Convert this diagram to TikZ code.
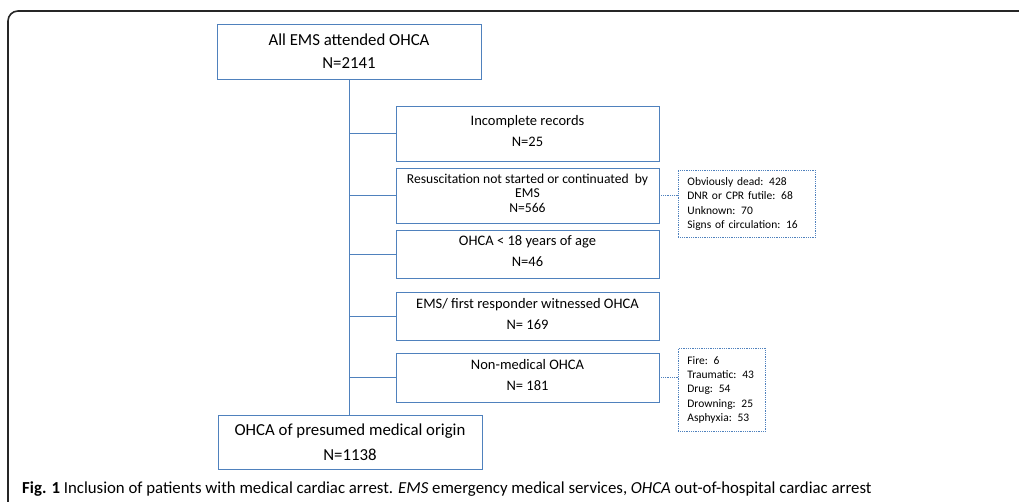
\documentclass[tikz,border=0pt]{standalone}
\usepackage{fontspec}
\setmainfont{Carlito}
\usetikzlibrary{positioning}
\definecolor{boxblue}{HTML}{4F81BD}
\tikzset{
  stagebox/.style={draw=boxblue, line width=0.9pt, minimum width=264pt, minimum height=55pt,
    align=center, inner sep=2pt, font=\fontsize{16.8}{20}\selectfont},
  sidebox/.style={stagebox, minimum width=263pt, text depth=5pt, font=\fontsize{14.5}{17.5}\selectfont},
  notebox/.style={draw=boxblue, densely dotted, line width=0.8pt, align=left, anchor=north west,
    inner xsep=9pt, inner ysep=6pt, font=\fontsize{11.5}{14.4}\selectfont},
  flow/.style={draw=boxblue, line width=0.9pt},
  noteline/.style={draw=boxblue, densely dotted, line width=0.8pt},
}
\begin{document}
\begin{tikzpicture}[x=1pt,y=-1pt]
\useasboundingbox (0,0) rectangle (1019,502);
% outer frame
\draw[line width=1.6pt, rounded corners=10pt, color=black!85] (8,503) -- (8,11) -- (1020,11);

% main flow boxes
\node[stagebox] (all) at (349,51.5) {All EMS attended OHCA\\[3pt]N=2141};
\node[stagebox, minimum height=54pt] (med) at (350,442) {OHCA of presumed medical origin\\[5pt]N=1138};

% exclusion boxes
\node[sidebox] (inc)  at (527.5,133.5) {Incomplete records\\[3.5pt]N=25};
\node[sidebox, font=\fontsize{13.6}{14.5}\selectfont] (res) at (527.5,195.5) {Resuscitation not started or continuated \ by\\EMS\\N=566};
\node[sidebox, minimum height=48pt] (age)  at (527.5,254) {OHCA < 18 years of age\\[3.5pt]N=46};
\node[sidebox, minimum height=48pt] (wit)  at (527.5,316) {EMS/ first responder witnessed OHCA\\[3.5pt]N= 169};
\node[sidebox, minimum height=49pt] (nonm) at (527.5,377.5) {Non-medical OHCA\\[3.5pt]N= 181};

% detail boxes
\node[notebox, text width=119pt, minimum height=67pt] (resd) at (678,170) {Obviously dead: 428\\DNR or CPR futile: 68\\Unknown: 70\\Signs of circulation: 16};
\node[notebox, text width=69pt, minimum height=83pt] (nonmd) at (678,348) {Fire: 6\\Traumatic: 43\\Drug: 54\\Drowning: 25\\Asphyxia: 53};

% trunk and branches
\draw[flow] (all.south) -- (all.south |- med.north);
\foreach \b in {inc,res,age,wit,nonm}
  \draw[flow] (\b.west) -- (all.south |- \b.west);

% dotted links to the detail boxes
\draw[noteline] (res.east) -- (res.east -| resd.west);
\draw[noteline] (nonm.east) -- (nonm.east -| nonmd.west);

% caption
\node[anchor=base west, inner sep=0pt, font=\fontsize{16.8}{19}\selectfont] (cap) at (22,493)
  {\textbf{Fig. 1} Inclusion of patients with medical cardiac arrest. \textit{EMS} emergency medical services, \textit{OHCA} out-of-hospital cardiac arrest};
\end{tikzpicture}
\end{document}
